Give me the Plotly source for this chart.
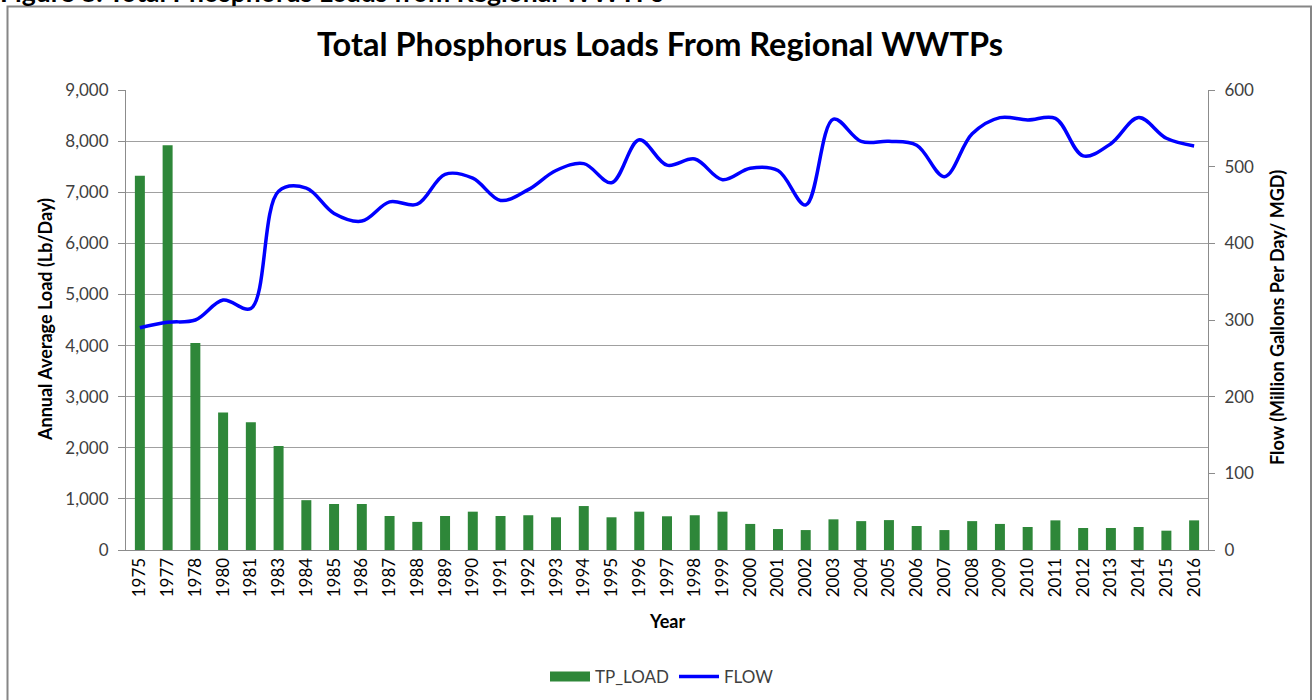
import plotly.graph_objects as go

years = ["1975", "1977", "1978", "1980", "1981", "1983"] + [str(y) for y in range(1984, 2017)]

tp_load = [7320, 7920, 4050, 2690, 2500, 2035, 975, 900, 900, 665, 550, 665, 750, 665,
           680, 640, 860, 640, 750, 660, 680, 750, 510, 410, 390, 600, 565, 585,
           470, 390, 565, 510, 450, 580, 430, 430, 450, 378, 580]

flow = [290, 297, 300, 326, 315, 468, 472, 439, 429, 454, 451, 490, 485, 456,
        470, 495, 504, 479, 535, 502, 510, 483, 498, 495, 450, 562, 533, 533,
        528, 487, 543, 564, 561, 563, 514, 530, 564, 537, 527]

FONT = "Lato"
GREEN = "#2E8739"
# desired plot area in page pixels: x 126..1208, y 90..550
PL, PR, PT, PB = 126, 1208, 90, 550
W, H = 1313, 700
L, T = PL, PT
PW, PH = PR - PL, PB - PT
R, B = W - L - PW, H - T - PH

def px_x(px):
    return (px - PL) / PW

def px_y(py):
    return (PB - py) / PH

fig = go.Figure()
fig.add_trace(go.Bar(x=years, y=tp_load, name="TP_LOAD", marker=dict(color=GREEN, line=dict(width=0)),
                     yaxis="y", showlegend=False))
fig.add_trace(go.Scatter(x=[None], y=[None], name="TP_LOAD", mode="lines",
                         line=dict(color=GREEN, width=10), showlegend=True))
fig.add_trace(go.Scatter(x=years, y=flow, name="FLOW", mode="lines", yaxis="y2",
                         line=dict(color="#0000FF", width=3.5, shape="spline", smoothing=1.0)))

fig.update_layout(
    width=W, height=H,
    margin=dict(l=L, r=R, t=T, b=B, autoexpand=False),
    paper_bgcolor="white", plot_bgcolor="white",
    font=dict(family=FONT, size=17, color="#404040"),
    bargap=0.64,
    title=dict(text="<b>Total Phosphorus Loads From Regional WWTPs</b>",
               x=660 / W, xanchor="center", y=1 - 45 / H, yanchor="middle",
               font=dict(family=FONT, size=32.5, color="#000000")),
    xaxis=dict(type="category", tickangle=-90, showline=True, linecolor="#8c8c8c", linewidth=1,
               showgrid=False, ticks="", tickfont=dict(size=17, color="#000000")),
    yaxis=dict(range=[0, 9000], dtick=1000, tickformat=",", showgrid=True, gridcolor="#a0a0a0",
               gridwidth=1, showline=True, linecolor="#8c8c8c", ticks="outside", ticklen=7,
               tickcolor="#8c8c8c", zeroline=False, ticklabelstandoff=6,
               tickfont=dict(size=17, color="#404040")),
    yaxis2=dict(range=[0, 600], dtick=100, overlaying="y", side="right", showgrid=False,
                showline=True, linecolor="#8c8c8c", ticks="outside", ticklen=6, tickcolor="#8c8c8c",
                zeroline=False, ticklabelstandoff=6, tickfont=dict(size=17, color="#404040")),
    legend=dict(orientation="h", x=px_x(662), xanchor="center", y=px_y(677), yanchor="middle",
                font=dict(size=17, color="#404040"), itemwidth=40, traceorder="normal"),
    showlegend=True,
)

fig.add_annotation(text="<b>Annual Average Load (Lb/Day)</b>", textangle=-90, xref="paper", yref="paper",
                   x=px_x(45), y=px_y(320), xanchor="center", yanchor="middle", showarrow=False,
                   font=dict(family=FONT, size=18, color="#000000"))
fig.add_annotation(text="<b>Flow (Million Gallons Per Day/ MGD)</b>", textangle=-90, xref="paper", yref="paper",
                   x=px_x(1277), y=px_y(318), xanchor="center", yanchor="middle", showarrow=False,
                   font=dict(family=FONT, size=18, color="#000000"))
fig.add_annotation(text="<b>Year</b>", xref="paper", yref="paper", x=px_x(667), y=px_y(621),
                   xanchor="center", yanchor="middle", showarrow=False,
                   font=dict(family=FONT, size=18, color="#000000"))
fig.add_annotation(text="<b>Figure 8: Total Phosphorus Loads from Regional WWTPs</b>", xref="paper", yref="paper",
                   x=px_x(-2), y=px_y(10), xanchor="left", yanchor="bottom", showarrow=False,
                   font=dict(family=FONT, size=26.5, color="#000000"))

fig.add_shape(type="rect", xref="paper", yref="paper", x0=px_x(7.5), x1=px_x(1311), y0=px_y(712), y1=px_y(6.5),
              line=dict(color="#868686", width=2), fillcolor="rgba(0,0,0,0)", layer="below")

fig.write_html("out.html", config={"displayModeBar": False},
               post_script="document.body.style.margin='0';")
